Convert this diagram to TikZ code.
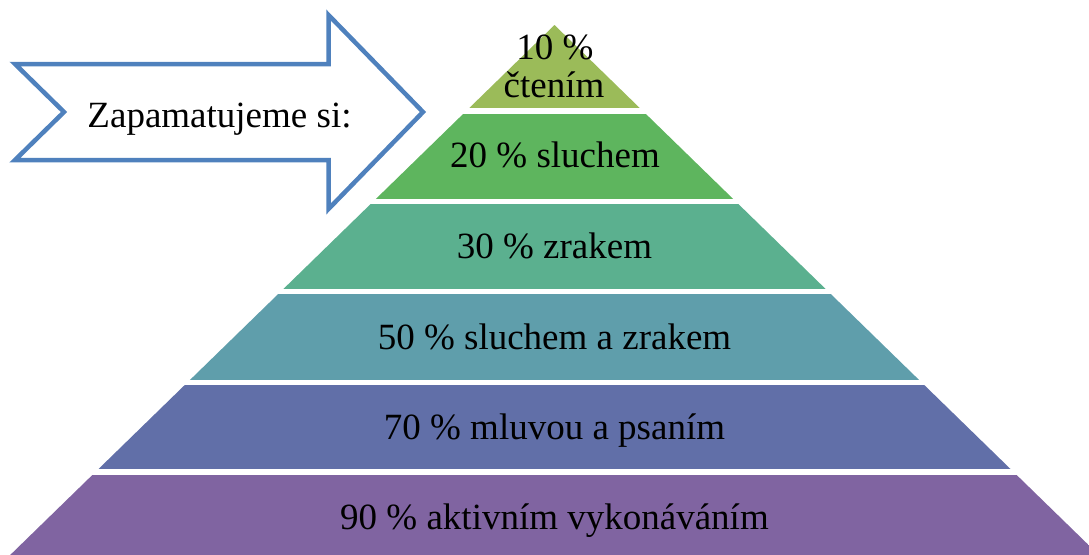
\documentclass[tikz,border=0pt]{standalone}
\usepackage{fontspec}
\setmainfont{Liberation Serif}
\definecolor{arrowblue}{HTML}{4F81BD}
\definecolor{lvlA}{HTML}{9BBB59}
\definecolor{lvlB}{HTML}{5EB55E}
\definecolor{lvlC}{HTML}{5BB08F}
\definecolor{lvlD}{HTML}{5F9EAB}
\definecolor{lvlE}{HTML}{616FA8}
\definecolor{lvlF}{HTML}{8064A1}
\begin{document}
\begin{tikzpicture}[x=1pt,y=-1pt,
  lbl/.style={font=\fontsize{37}{38}\selectfont, anchor=base, inner sep=0pt, text=black},
  arrowline/.style={draw=arrowblue, line width=4.5pt, fill=white, line join=miter}]
\useasboundingbox (0,0) rectangle (1089,554);
\clip (0,0) rectangle (1089,554);

% pyramid: one triangle cut into six horizontal bands
\begin{scope}
  \clip (554.5,25) -- (1124.5,580) -- (-15.5,580) -- cycle;
  \fill[lvlA] (0,25)  rectangle (1089,108);
  \fill[lvlB] (0,114) rectangle (1089,199);
  \fill[lvlC] (0,204) rectangle (1089,289);
  \fill[lvlD] (0,294) rectangle (1089,380);
  \fill[lvlE] (0,385) rectangle (1089,469);
  \fill[lvlF] (0,475) rectangle (1089,560);
\end{scope}

% band labels
\node[lbl] (l1a) at (555,59) {10 \%};
\node[lbl] (l1b) at (554,97) {čtením};
\node[lbl] (l2) at (555,167) {20 \% sluchem};
\node[lbl] (l3) at (554.5,258) {30 \% zrakem};
\node[lbl] (l4) at (554.5,349) {50 \% sluchem a zrakem};
\node[lbl] (l5) at (554.5,439) {70 \% mluvou a psaním};
\node[lbl] (l6) at (554.5,529) {90 \% aktivním vykonáváním};

% notched arrow pointing at the pyramid
\draw[arrowline] (15,64) -- (328.5,64) -- (328.5,15) -- (423,112)
  -- (328.5,209) -- (328.5,160) -- (15,160) -- (64,112) -- cycle;
\node[lbl] (arrowtext) at (219.5,127) {Zapamatujeme si:};
\end{tikzpicture}
\end{document}
